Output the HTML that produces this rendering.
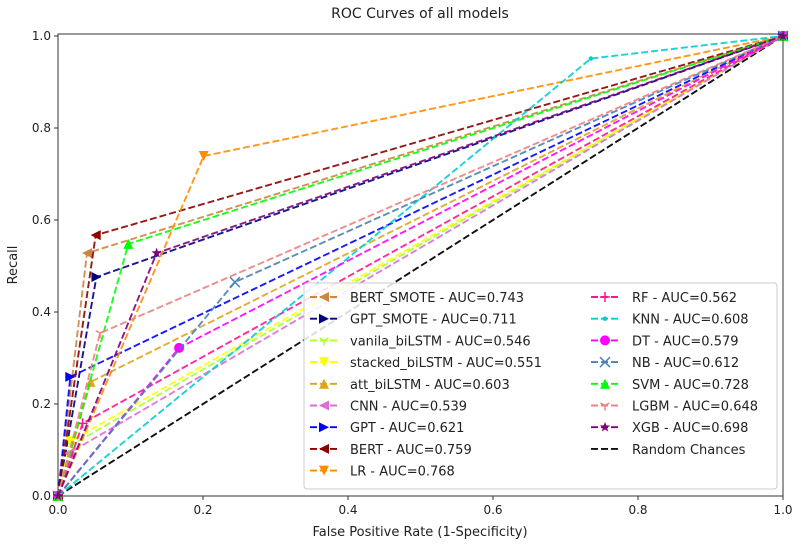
<!DOCTYPE html>
<html><head><meta charset="utf-8"><style>
body{margin:0;background:#fff}
svg text{font-family:"DejaVu Sans","Liberation Sans",sans-serif;fill:#222}
</style></head><body>
<svg id="chart" width="811" height="546" xmlns="http://www.w3.org/2000/svg">
<text x="420" y="18" font-size="14" text-anchor="middle">ROC Curves of all models</text>
<g id="plot"></g>
<text x="420" y="536" font-size="13" text-anchor="middle">False Positive Rate (1-Specificity)</text>
<text transform="translate(17,265) rotate(-90)" font-size="13" text-anchor="middle">Recall</text>
</svg>
<script>
const models=["BERT_SMOTE","GPT_SMOTE","vanila_biLSTM","stacked_biLSTM","att_biLSTM","CNN","GPT","BERT","LR","RF","KNN","DT","NB","SVM","LGBM","XGB"];
const fprs=[0.04,0.053,0.02,0.017,0.045,0.015,0.017,0.052,0.201,0.034,0.735,0.167,0.244,0.097,0.058,0.136];
const tprs=[0.528,0.476,0.112,0.119,0.248,0.093,0.259,0.567,0.739,0.158,0.951,0.322,0.465,0.548,0.354,0.528];
const aucs=["0.743","0.711","0.546","0.551","0.603","0.539","0.621","0.759","0.768","0.562","0.608","0.579","0.612","0.728","0.648","0.698"];
const colors=["#cd853f","#000080","#adff2f","#ffff00","#daa520","#da70d6","#0000ff","#8b0000","#ff8c00","#ff1493","#00ced1","#ff00ff","#4682b4","#00ff00","#f08080","#800080"];
const markers=["<",">","1","v","^","<",">","<","v","+",".","o","x","^","1","*"];
const xTicks=[0,0.2,0.4,0.6,0.8,1.0];
const yTicks=[0,0.2,0.4,0.6,0.8,1.0];
const X0=58,X1=783,Y0=496,Y1=36;
const sx=v=>X0+v*(X1-X0), sy=v=>Y0-v*(Y0-Y1);
const NS="http://www.w3.org/2000/svg";
const g=document.getElementById('plot');
function mk(t,a,p){const e=document.createElementNS(NS,t);for(const k in a)e.setAttribute(k,a[k]);(p||g).appendChild(e);return e;}
function marker(m,x,y,c,s,p){
  if(m=="<")return mk('path',{d:`M${x-s},${y}L${x+s},${y-s}L${x+s},${y+s}Z`,fill:c},p);
  if(m==">")return mk('path',{d:`M${x+s},${y}L${x-s},${y-s}L${x-s},${y+s}Z`,fill:c},p);
  if(m=="v")return mk('path',{d:`M${x},${y+s}L${x-s},${y-s}L${x+s},${y-s}Z`,fill:c},p);
  if(m=="^")return mk('path',{d:`M${x},${y-s}L${x-s},${y+s}L${x+s},${y+s}Z`,fill:c},p);
  if(m=="o")return mk('circle',{cx:x,cy:y,r:s,fill:c},p);
  if(m==".")return mk('circle',{cx:x,cy:y,r:s*0.45,fill:c},p);
  if(m=="+")return mk('path',{d:`M${x-s},${y}H${x+s}M${x},${y-s}V${y+s}`,stroke:c,'stroke-width':1.5,fill:'none'},p);
  if(m=="x")return mk('path',{d:`M${x-s},${y-s}L${x+s},${y+s}M${x-s},${y+s}L${x+s},${y-s}`,stroke:c,'stroke-width':1.5,fill:'none'},p);
  if(m=="1")return mk('path',{d:`M${x},${y}V${y+s}M${x},${y}L${x-s*0.87},${y-s*0.5}M${x},${y}L${x+s*0.87},${y-s*0.5}`,stroke:c,'stroke-width':1.5,fill:'none'},p);
  let pts=[];for(let i=0;i<10;i++){const r=i%2?s*0.45:s*1.1,a=-Math.PI/2+i*Math.PI/5;pts.push((x+r*Math.cos(a)).toFixed(1)+','+(y+r*Math.sin(a)).toFixed(1));}
  return mk('polygon',{points:pts.join(' '),fill:c},p);
}
xTicks.forEach(t=>{
  const tk=mk('line',{x1:sx(t),x2:sx(t),y1:Y0,y2:Y0+4,stroke:'#333'});
  
  
  const tx=mk('text',{x:sx(t),y:Y0+18,'font-size':12,'text-anchor':'middle'});tx.textContent=t.toFixed(1);
  
  
});
yTicks.forEach(t=>{
  const tk=mk('line',{x1:X0-4,x2:X0,y1:sy(t),y2:sy(t),stroke:'#333'});
  
  
  const tx=mk('text',{x:X0-7,y:sy(t)+4,'font-size':12,'text-anchor':'end'});tx.textContent=t.toFixed(1);
  
  
});
const rl=mk('line',{x1:sx(0),y1:sy(0),x2:sx(1),y2:sy(1),stroke:'#111','stroke-width':1.9,'stroke-dasharray':'7,3'});


models.forEach((m,i)=>{
  const xs=[0,fprs[i],1],ys=[0,tprs[i],1];
  const pl=mk('polyline',{points:xs.map((v,j)=>sx(v)+','+sy(ys[j])).join(' '),fill:'none',stroke:colors[i],'stroke-width':1.9,'stroke-dasharray':'7,3','stroke-opacity':0.9});
  
  
  xs.forEach((v,j)=>{const mm=marker(markers[i],sx(v),sy(ys[j]),colors[i],5);
    
    });
});
mk('rect',{x:X0,y:Y1-2,width:X1-X0,height:Y0-Y1+2,fill:'none',stroke:'#333','stroke-width':1});
const lg=mk('g',{});


mk('rect',{x:304,y:283,width:473,height:206,rx:3,fill:'#fff','fill-opacity':0.85,stroke:'#ccc'},lg);
const entries=models.map((m,i)=>({label:m+' - AUC='+aucs[i],c:colors[i],mk:markers[i]}));
entries.push({label:'Random Chances',c:'#111',mk:null});
entries.forEach((e,i)=>{
  const col=i<9?0:1,row=col?i-9:i;
  const lx=col?591:310,tx=col?632:350,y=297+row*21.7;
  const eg=mk('g',{},lg);
  
  
  mk('line',{x1:lx,x2:lx+28,y1:y,y2:y,stroke:e.c,'stroke-width':1.9,'stroke-dasharray':'7,3'},eg);
  if(e.mk)marker(e.mk,lx+14,y,e.c,5,eg);
  const t=mk('text',{x:tx,y:y+5,'font-size':13},eg);t.textContent=e.label;
});
</script>
</body></html>
